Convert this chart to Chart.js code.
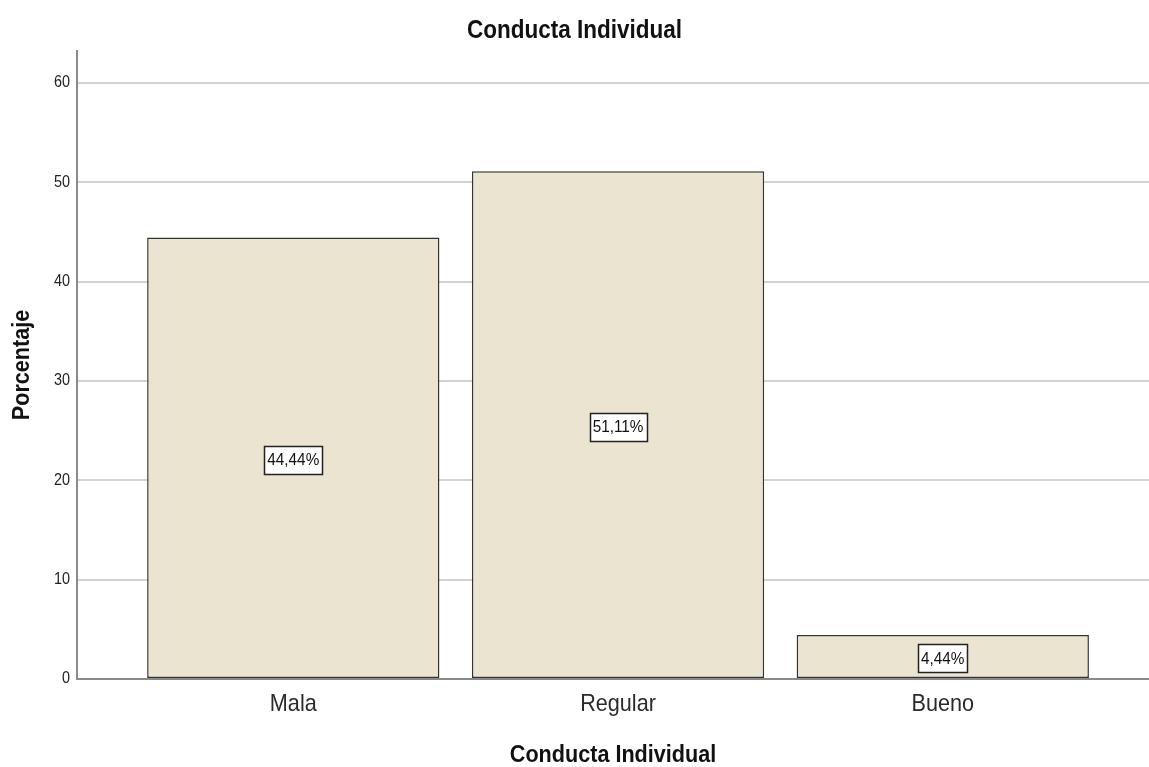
<!DOCTYPE html>
<html>
<head>
<meta charset="utf-8">
<script src="https://cdn.jsdelivr.net/npm/chart.js@4.4.1/dist/chart.umd.min.js"></script>
<style>
  html, body { margin: 0; padding: 0; background: #ffffff; }
  #wrap { width: 1149px; height: 767px; }
</style>
</head>
<body>
<div id="wrap"><canvas id="c" width="1149" height="767"></canvas></div>
<script>
// Conducta Individual — percentage by category
const categories = ['Mala', 'Regular', 'Bueno'];
const percentages = [44.44, 51.11, 4.44];
const yTicks = [0, 10, 20, 30, 40, 50, 60];

const FONT = "'Liberation Sans', Arial, sans-serif";

// Slightly condensed lettering: squeeze every glyph run along its own
// writing direction and report the narrower widths to the layout code.
const SQUEEZE = 0.9;
function condenseText(ctx) {
  const fill = ctx.fillText.bind(ctx);
  const measure = ctx.measureText.bind(ctx);
  ctx.fillText = function (text, x, y) {
    this.save();
    this.translate(x, y);
    this.scale(SQUEEZE, 1);
    fill(text, 0, 0);
    this.restore();
  };
  ctx.measureText = function (text) {
    const m = measure(text);
    return {
      width: m.width * SQUEEZE,
      actualBoundingBoxAscent: m.actualBoundingBoxAscent,
      actualBoundingBoxDescent: m.actualBoundingBoxDescent,
      actualBoundingBoxLeft: m.actualBoundingBoxLeft * SQUEEZE,
      actualBoundingBoxRight: m.actualBoundingBoxRight * SQUEEZE
    };
  };
}

// Boxed percentage label in the middle of every bar
const boxedLabels = {
  id: 'boxedLabels',
  afterDatasetsDraw(chart) {
    const ctx = chart.ctx;
    const meta = chart.getDatasetMeta(0);
    ctx.save();
    ctx.font = '17px ' + FONT;
    ctx.textAlign = 'center';
    ctx.textBaseline = 'middle';
    meta.data.forEach((bar, i) => {
      const text = percentages[i].toFixed(2).replace('.', ',') + '%';
      const cx = bar.x;
      const cy = (bar.y + bar.base) / 2 + 2;
      const w = Math.round(ctx.measureText(text).width) + 6;
      const h = 28;
      const x0 = Math.round(cx - w / 2) + 0.5;
      const y0 = Math.round(cy - h / 2) + 0.5;
      ctx.fillStyle = '#ffffff';
      ctx.fillRect(x0, y0, w, h);
      ctx.strokeStyle = '#222222';
      ctx.lineWidth = 1.5;
      ctx.strokeRect(x0, y0, w, h);
      ctx.fillStyle = '#111111';
      ctx.fillText(text, cx, cy + 1);
    });
    ctx.restore();
  }
};

const canvas = document.getElementById('c');
condenseText(canvas.getContext('2d'));

new Chart(canvas, {
  type: 'bar',
  data: {
    datasets: [{
      data: categories.map((c, i) => ({ x: i, y: percentages[i] })),
      backgroundColor: '#EAE4D0',
      borderColor: '#333333',
      borderWidth: 1.5,
      borderSkipped: false,
      barPercentage: 0.9,
      categoryPercentage: 1.0
    }]
  },
  options: {
    responsive: false,
    animation: false,
    layout: { padding: 0 },
    plugins: {
      legend: { display: false },
      tooltip: { enabled: false },
      title: {
        display: true,
        text: 'Conducta Individual',
        color: '#111111',
        font: { family: FONT, size: 25, weight: 'bold', lineHeight: 1.2 },
        padding: { top: 16, bottom: 5 }
      }
    },
    scales: {
      x: {
        type: 'linear',
        offset: false,
        min: -0.666,
        max: 2.635,
        afterBuildTicks(scale) {
          scale.ticks = categories.map((c, i) => ({ value: i }));
        },
        afterFit(scale) { scale.height = 88; },
        ticks: {
          callback: (v) => categories[v],
          color: '#2a2a2a',
          font: { family: FONT, size: 24 },
          padding: 11,
          maxRotation: 0,
          autoSkip: false
        },
        grid: { display: false, drawTicks: false },
        border: { display: true, color: '#8a8a8a', width: 2 },
        title: {
          display: true,
          text: 'Conducta Individual',
          color: '#111111',
          font: { family: FONT, size: 24, weight: 'bold', lineHeight: 1.0 },
          padding: { top: 0, bottom: 0 }
        }
      },
      y: {
        min: 0,
        max: 63.2,
        afterBuildTicks(scale) {
          scale.ticks = yTicks.map(v => ({ value: v }));
        },
        afterFit(scale) { scale.width = 77; },
        ticks: {
          color: '#222222',
          font: { family: FONT, size: 16 },
          padding: 7
        },
        grid: { color: '#d2d2d2', lineWidth: 2, drawTicks: false },
        border: { display: true, color: '#8a8a8a', width: 2 },
        title: {
          display: true,
          text: 'Porcentaje',
          color: '#111111',
          font: { family: FONT, size: 24, weight: 'bold', lineHeight: 1.2 },
          padding: { top: 8, bottom: 0 }
        }
      }
    }
  },
  plugins: [boxedLabels]
});
</script>
</body>
</html>
